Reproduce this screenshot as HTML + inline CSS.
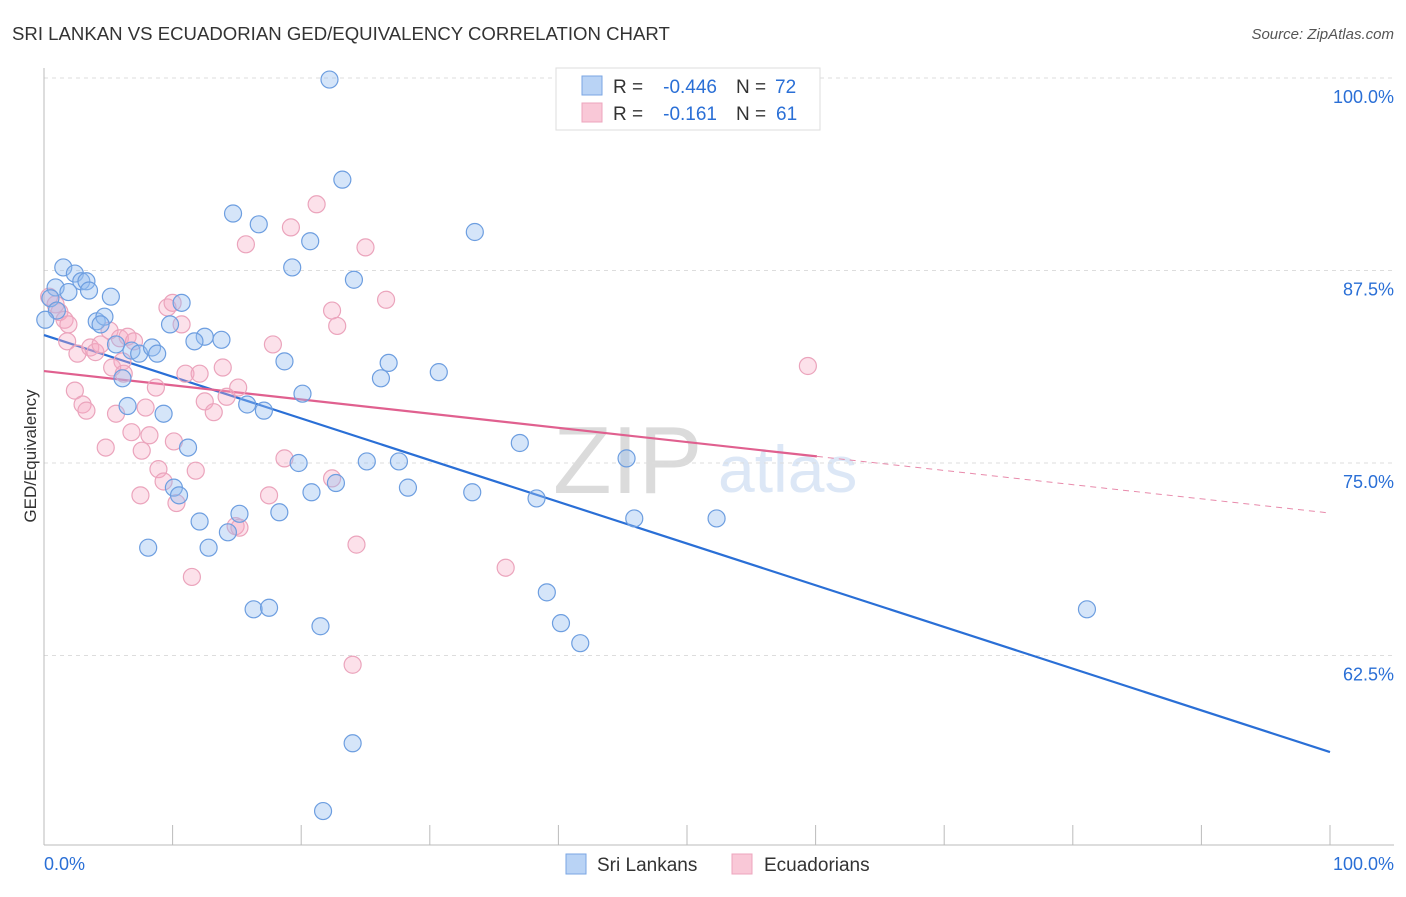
<!DOCTYPE html>
<html><head><meta charset="utf-8"><style>
body{margin:0;background:#fff;font-family:"Liberation Sans",sans-serif;}
svg text{font-family:"Liberation Sans",sans-serif;}
</style></head><body>
<svg id="chart" width="1406" height="892" viewBox="0 0 1406 892">
<text x="12" y="40" font-size="18.6" fill="#333">SRI LANKAN VS ECUADORIAN GED/EQUIVALENCY CORRELATION CHART</text>
<text x="1394" y="39" font-size="15" fill="#555" text-anchor="end" font-style="italic">Source: ZipAtlas.com</text>
<text x="36" y="456" font-size="17" fill="#333" text-anchor="middle" transform="rotate(-90 36 456)">GED/Equivalency</text>
<g opacity="0.35">
<text x="553" y="493" font-size="96" font-family="Liberation Serif" fill="#999">ZIP</text>
<text x="718" y="492" font-size="66" fill="#9dbde8">atlas</text>
</g>
<g id="grid"></g><g id="axes"></g><g id="lines"></g><g id="pts"></g>
<g>
<rect x="556" y="68" width="264" height="62" fill="#fff" stroke="#ddd"/>
<rect x="582" y="76" width="20" height="19" fill="#b9d3f5" stroke="#7aa6e3"/>
<rect x="582" y="103" width="20" height="19" fill="#f9c8d7" stroke="#eda5bd"/>
<text x="613" y="93" font-size="19" fill="#333">R =</text>
<text x="717" y="93" font-size="19" fill="#2a6fd6" text-anchor="end">-0.446</text>
<text x="736" y="93" font-size="19" fill="#333">N =</text>
<text x="775" y="93" font-size="19" fill="#2a6fd6">72</text>
<text x="613" y="120" font-size="19" fill="#333">R =</text>
<text x="717" y="120" font-size="19" fill="#2a6fd6" text-anchor="end">-0.161</text>
<text x="736" y="120" font-size="19" fill="#333">N =</text>
<text x="776" y="120" font-size="19" fill="#2a6fd6">61</text>
</g>
<g>
<rect x="566" y="854" width="20" height="20" fill="#b9d3f5" stroke="#7aa6e3"/>
<text x="597" y="871" font-size="19" fill="#333">Sri Lankans</text>
<rect x="732" y="854" width="20" height="20" fill="#f9c8d7" stroke="#eda5bd"/>
<text x="764" y="871" font-size="19" fill="#333">Ecuadorians</text>
</g>
</svg>
<script>
const blueX=[22.2,23.2,14.7,16.7,20.7,33.5,19.3,24.1,1.5,2.4,2.9,3.3,3.5,0.9,1.9,5.2,10.7,4.1,4.7,4.4,9.8,12.5,13.8,11.7,5.6,6.8,7.4,8.4,8.8,18.7,26.8,26.2,30.7,6.1,20.1,6.5,15.8,9.3,17.1,11.2,37.0,19.8,25.1,27.6,45.3,10.1,10.5,22.7,28.3,20.8,33.3,38.3,15.2,18.3,12.1,45.9,52.3,14.3,8.1,12.8,39.1,16.3,17.5,81.1,40.2,21.5,41.7,24.0,21.7,0.5,1.0,0.1];
const blueY=[99.9,93.4,91.2,90.5,89.4,90.0,87.7,86.9,87.7,87.3,86.8,86.8,86.2,86.4,86.1,85.8,85.4,84.2,84.5,84.0,84.0,83.2,83.0,82.9,82.7,82.3,82.1,82.5,82.1,81.6,81.5,80.5,80.9,80.5,79.5,78.7,78.8,78.2,78.4,76.0,76.3,75.0,75.1,75.1,75.3,73.4,72.9,73.7,73.4,73.1,73.1,72.7,71.7,71.8,71.2,71.4,71.4,70.5,69.5,69.5,66.6,65.5,65.6,65.5,64.6,64.4,63.3,56.8,52.4,85.7,84.9,84.3];
const pinkX=[21.2,19.2,15.7,25.0,26.6,22.4,22.8,9.6,10.0,10.7,0.4,0.9,1.2,1.6,1.9,1.8,2.6,3.6,4.0,4.4,5.1,5.9,6.5,7.0,6.1,5.3,6.2,17.8,11.0,12.1,13.9,15.1,8.7,14.2,12.5,13.2,2.4,3.0,3.3,7.9,5.6,6.8,8.2,10.1,4.8,7.6,18.7,8.9,11.8,9.3,22.4,7.5,17.5,10.3,14.9,24.3,35.9,11.5,59.4,24.0,15.2];
const pinkY=[91.8,90.3,89.2,89.0,85.6,84.9,83.9,85.1,85.4,84.0,85.8,85.3,84.8,84.3,84.0,82.9,82.1,82.5,82.2,82.7,83.6,83.1,83.2,82.9,81.6,81.2,80.8,82.7,80.8,80.8,81.2,79.9,79.9,79.3,79.0,78.3,79.7,78.8,78.4,78.6,78.2,77.0,76.8,76.4,76.0,75.8,75.3,74.6,74.5,73.8,74.0,72.9,72.9,72.4,70.9,69.7,68.2,67.6,81.3,61.9,70.8];
const blueTrend=[83.31,56.23];
const pinkTrend=[80.97,71.75];
const pinkSolidEnd=60.1;
const yTicks=[100,87.5,75,62.5];
const yTickLabels=["100.0%","87.5%","75.0%","62.5%"];
const xTicks=[0,10,20,30,40,50,60,70,80,90,100];

const NS="http://www.w3.org/2000/svg";
const xs=v=>44+v*12.86;
const ys=v=>78+(100-v)*15.4;
function mk(tag,attrs,parent){const e=document.createElementNS(NS,tag);for(const k in attrs)e.setAttribute(k,attrs[k]);document.getElementById(parent).appendChild(e);return e;}

yTicks.forEach((t,i)=>{
  const g=mk('line',{x1:44,x2:1394,y1:ys(t),y2:ys(t),stroke:'#ddd','stroke-dasharray':'4,4'},'grid');
  
  
  const tx=mk('text',{x:1394,y:ys(t)+25,'font-size':18,fill:'#2a6fd6','text-anchor':'end'},'grid');
  tx.textContent=yTickLabels[i];
  
  
});
const ax=mk('line',{x1:44,x2:44,y1:68,y2:845,stroke:'#bbb'},'axes');


const bx=mk('line',{x1:44,x2:1394,y1:845,y2:845,stroke:'#bbb'},'axes');


xTicks.forEach(t=>{
  const l=mk('line',{x1:xs(t),x2:xs(t),y1:825,y2:845,stroke:'#bbb'},'axes');
  
  
});
[[0,'0.0%','start',44],[100,'100.0%','end',1394]].forEach(d=>{
  const t=mk('text',{x:d[3],y:870,'font-size':18,fill:'#2a6fd6','text-anchor':d[2]},'axes');
  t.textContent=d[1];
  
  
});

function pts(X,Y,fill,stroke,name){
  X.forEach((x,i)=>{
    const c=mk('circle',{cx:xs(x),cy:ys(Y[i]),r:8.5,fill:fill,stroke:stroke,'stroke-width':1.2},'pts');
    
    
  });
}
pts(pinkX,pinkY,'rgba(245,170,195,0.35)','#eba4bc','ecuadorian-point');
pts(blueX,blueY,'rgba(150,190,240,0.4)','#6d9ee0','sri-lankan-point');

const bl=mk('line',{x1:xs(0),y1:ys(blueTrend[0]),x2:xs(100),y2:ys(blueTrend[1]),stroke:'#2a6fd6','stroke-width':2.2},'lines');


const pm=pinkTrend[0]+(pinkTrend[1]-pinkTrend[0])*pinkSolidEnd/100;
const pl=mk('line',{x1:xs(0),y1:ys(pinkTrend[0]),x2:xs(pinkSolidEnd),y2:ys(pm),stroke:'#e0608f','stroke-width':2.2},'lines');


const pd=mk('line',{x1:xs(pinkSolidEnd),y1:ys(pm),x2:xs(100),y2:ys(pinkTrend[1]),stroke:'#e88aab','stroke-width':1,'stroke-dasharray':'6,5'},'lines');


</script>
</body></html>
